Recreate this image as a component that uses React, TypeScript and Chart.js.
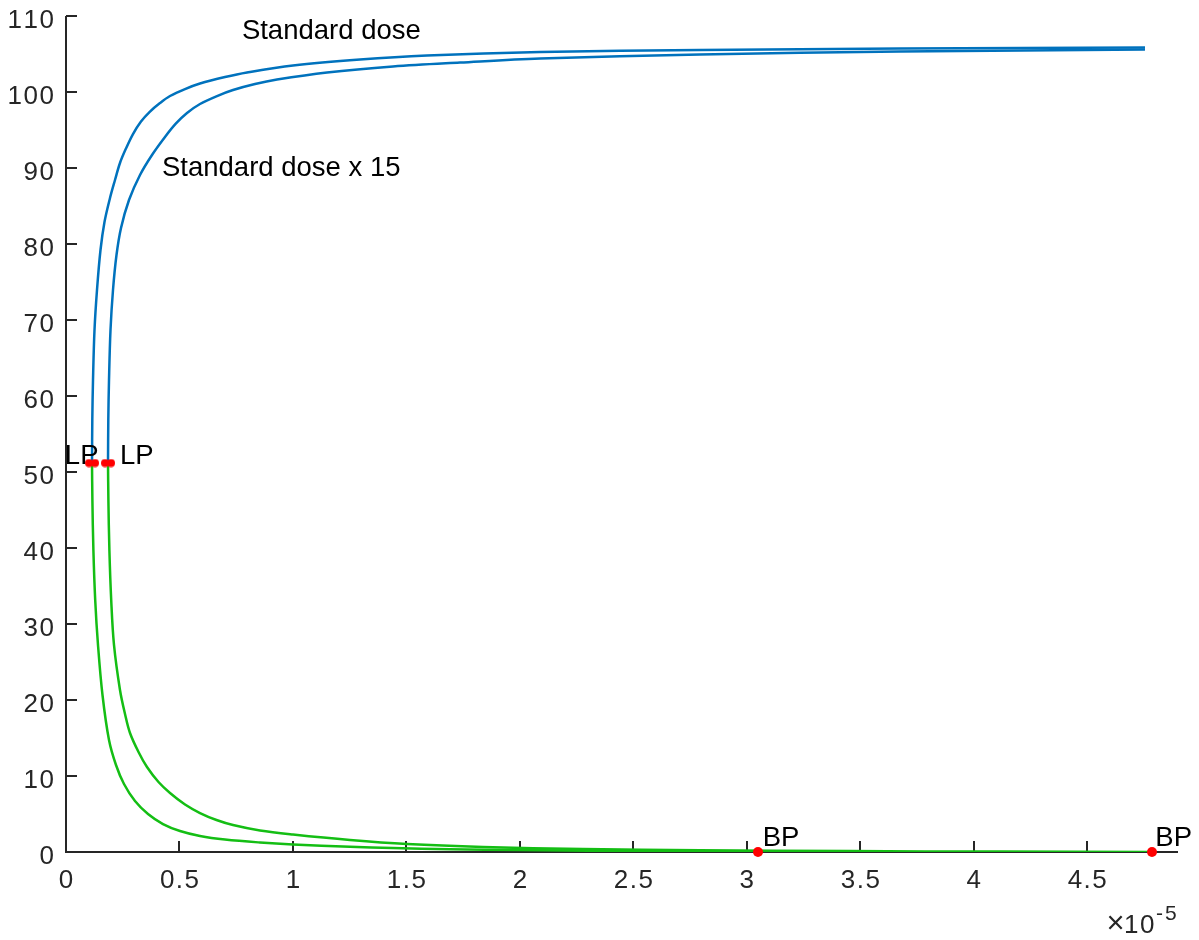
import React, { useEffect, useRef } from "react";
import { Chart, registerables } from "chart.js";

Chart.register(...registerables);

// Continuation branches. x is in units of 1e-5 (the axis carries a ×10^-5 multiplier).
// Standard dose: stable (upper) and unstable (lower) branches meeting at the fold LP.
const stdUpperX = [0.1146, 0.1159, 0.119, 0.1256, 0.1366, 0.152, 0.1696, 0.1939, 0.2159, 0.2379, 0.2644, 0.2952, 0.3305, 0.3701, 0.4142, 0.4583, 0.5244, 0.5905, 0.7006, 0.7976, 1.0003, 1.2955, 1.5907, 2.0887, 2.7937, 3.675, 4.7545];
const stdUpperY = [51.18, 56.84, 62.11, 68.68, 73.95, 79.21, 82.89, 86.05, 88.42, 90.66, 92.57, 94.47, 96.12, 97.43, 98.55, 99.47, 100.39, 101.12, 101.97, 102.57, 103.49, 104.28, 104.8, 105.26, 105.53, 105.72, 105.86];
const stdLowerX = [0.1146, 0.1163, 0.1207, 0.1287, 0.141, 0.1608, 0.1895, 0.2203, 0.2556, 0.304, 0.3613, 0.4274, 0.5023, 0.5905, 0.7006, 0.8549, 1.0003, 1.2514, 1.4409, 1.6921, 2.0005, 2.3971, 2.7937, 3.0492];
const stdLowerY = [51.18, 46.32, 39.74, 33.16, 27.24, 20.66, 14.74, 11.45, 8.95, 6.71, 5.0, 3.68, 2.76, 2.11, 1.64, 1.25, 0.99, 0.68, 0.53, 0.37, 0.25, 0.14, 0.05, 0];

// Standard dose x 15
const x15UpperX = [0.1851, 0.1864, 0.1895, 0.1961, 0.2071, 0.2225, 0.2424, 0.2776, 0.3261, 0.379, 0.4362, 0.4847, 0.5332, 0.5905, 0.6654, 0.7359, 0.8328, 0.9298, 1.1501, 1.4409, 1.7362, 2.0887, 2.7937, 3.675, 4.7545];
const x15UpperY = [51.18, 56.84, 62.11, 68.68, 73.95, 78.55, 82.11, 85.79, 89.08, 91.71, 94.08, 95.86, 97.24, 98.42, 99.47, 100.26, 101.05, 101.64, 102.57, 103.36, 103.88, 104.41, 104.93, 105.33, 105.59];
const x15LowerX = [0.1851, 0.1868, 0.1912, 0.1992, 0.2115, 0.2379, 0.26, 0.282, 0.3195, 0.3569, 0.4076, 0.4583, 0.5244, 0.5905, 0.6632, 0.7359, 0.8549, 1.0003, 1.2514, 1.5026, 1.8375, 2.2781, 2.7937, 3.4547, 4.1156, 4.7854];
const x15LowerY = [51.18, 46.32, 39.74, 33.16, 27.24, 21.32, 18.16, 15.66, 13.16, 11.18, 9.21, 7.76, 6.25, 5.13, 4.21, 3.55, 2.83, 2.3, 1.58, 1.05, 0.66, 0.39, 0.24, 0.12, 0.05, 0];

// Special points: limit points (LP) and branch points (BP)
const lpX = [0.1146, 0.1851];
const lpY = [51.18, 51.18];
const bpX = [3.0492, 4.7854];
const bpY = [0, 0];

const xTicks = [0, 0.5, 1, 1.5, 2, 2.5, 3, 3.5, 4, 4.5];
const yTicks = [0, 10, 20, 30, 40, 50, 60, 70, 80, 90, 100, 110];

// Text labels anchored in data coordinates (left edge, vertical middle)
const textLabels = [
  { text: "Standard dose", x: 0.775, y: 108.0 },
  { text: "Standard dose x 15", x: 0.423, y: 90.0 },
  { text: "LP", x: -0.005, y: 52.0 },
  { text: "LP", x: 0.238, y: 52.0 },
  { text: "BP", x: 3.07, y: 1.75 },
  { text: "BP", x: 4.8, y: 1.75 },
];

const FONT = '"Liberation Sans", Arial, Helvetica, sans-serif';
const AXIS = "#262626";
const BLUE = "#0072BD";
const GREEN = "#14BE14";
const RED = "#FF0000";
const TICK_SIZE = 26;
const TICK_SPACING = 1.5;

const pts = (xs: number[], ys: number[]) => xs.map((v, i) => ({ x: v, y: ys[i] }));

// Draw a string with a little extra spacing between glyphs.
function spacedText(ctx: CanvasRenderingContext2D, text: string, x: number, y: number, align: "left" | "center" | "right", spacing: number) {
  const chars = Array.from(text);
  const widths = chars.map((c) => ctx.measureText(c).width);
  const total = widths.reduce((s, w) => s + w, 0) + spacing * (chars.length - 1);
  let cx = align === "left" ? x : align === "center" ? x - total / 2 : x - total;
  ctx.textAlign = "left";
  chars.forEach((c, i) => {
    ctx.fillText(c, cx, y);
    cx += widths[i] + spacing;
  });
}

const axesPlugin = {
  id: "matlabAxes",
  beforeDatasetsDraw(chart: any) {
    const { ctx, chartArea: a, scales } = chart;
    const xs = scales.x;
    const ys = scales.y;
    ctx.save();
    ctx.strokeStyle = AXIS;
    ctx.lineWidth = 2;
    ctx.beginPath();
    ctx.moveTo(a.left, a.top);
    ctx.lineTo(a.left, a.bottom);
    ctx.lineTo(a.right, a.bottom);
    for (const v of yTicks) {
      const py = Math.round(ys.getPixelForValue(v));
      ctx.moveTo(a.left, py);
      ctx.lineTo(a.left + 11, py);
    }
    for (const v of xTicks) {
      const px = Math.round(xs.getPixelForValue(v));
      ctx.moveTo(px, a.bottom);
      ctx.lineTo(px, a.bottom - 11);
    }
    ctx.stroke();

    // tick labels
    ctx.fillStyle = AXIS;
    ctx.font = `${TICK_SIZE}px ${FONT}`;
    ctx.textBaseline = "alphabetic";
    for (const v of yTicks) {
      const py = ys.getPixelForValue(v);
      spacedText(ctx, String(v), a.left - 12, py + 11.5, "right", TICK_SPACING);
    }
    for (const v of xTicks) {
      const px = xs.getPixelForValue(v);
      spacedText(ctx, String(v), px, a.bottom + 36, "center", TICK_SPACING);
    }

    // axis multiplier  ×10^-5
    ctx.font = `31px ${FONT}`;
    spacedText(ctx, "\u00d7", a.right - 71.5, a.bottom + 81, "left", 0);
    ctx.font = `${TICK_SIZE}px ${FONT}`;
    spacedText(ctx, "10", a.right - 54, a.bottom + 81, "left", TICK_SPACING);
    ctx.font = `21px ${FONT}`;
    spacedText(ctx, "-5", a.right - 22, a.bottom + 68, "left", 2);
    ctx.restore();
  },
  afterDatasetsDraw(chart: any) {
    const { ctx, scales } = chart;
    const xs = scales.x;
    const ys = scales.y;
    ctx.save();
    ctx.fillStyle = "#000000";
    ctx.font = `27.5px ${FONT}`;
    ctx.textAlign = "left";
    ctx.textBaseline = "middle";
    for (const l of textLabels) {
      ctx.fillText(l.text, xs.getPixelForValue(l.x), ys.getPixelForValue(l.y));
    }
    ctx.restore();
  },
};

export default function App() {
  const canvasRef = useRef<HTMLCanvasElement | null>(null);

  useEffect(() => {
    const canvas = canvasRef.current;
    if (!canvas) return;

    // LP marker: a pair of small red dots
    const lpMarker = document.createElement("canvas");
    lpMarker.width = 14;
    lpMarker.height = 9;
    const mctx = lpMarker.getContext("2d")!;
    mctx.fillStyle = RED;
    mctx.beginPath();
    mctx.arc(4, 4.5, 4, 0, Math.PI * 2);
    mctx.arc(10, 4.5, 4, 0, Math.PI * 2);
    mctx.fill();

    const line = (xs: number[], ys: number[], color: string) => ({
      data: pts(xs, ys),
      showLine: true,
      borderColor: color,
      borderWidth: 2.5,
      pointRadius: 0,
      tension: 0.35,
      fill: false,
    });

    const chart = new Chart(canvas, {
      type: "scatter",
      data: {
        datasets: [
          {
            data: pts(lpX, lpY),
            pointStyle: lpMarker as any,
            pointRadius: 6,
            showLine: false,
            clip: false,
          },
          {
            data: pts(bpX, bpY),
            pointStyle: "circle",
            pointRadius: 5,
            pointBackgroundColor: RED,
            pointBorderWidth: 0,
            showLine: false,
            clip: false,
          },
          line(stdUpperX, stdUpperY, BLUE),
          line(x15UpperX, x15UpperY, BLUE),
          line(stdLowerX, stdLowerY, GREEN),
          line(x15LowerX, x15LowerY, GREEN),
        ] as any,
      },
      options: {
        animation: false,
        responsive: false,
        layout: { padding: { top: 16, right: 21, left: 0, bottom: 0 } },
        plugins: { legend: { display: false }, tooltip: { enabled: false } },
        scales: {
          x: {
            type: "linear",
            min: 0,
            max: 4.9,
            grid: { display: false, drawTicks: false },
            border: { display: false },
            afterBuildTicks: (s: any) => {
              s.ticks = xTicks.map((v) => ({ value: v }));
            },
            afterFit: (s: any) => {
              s.height = 88;
              s.paddingLeft = 0;
              s.paddingRight = 0;
            },
            ticks: { display: false },
          },
          y: {
            type: "linear",
            min: 0,
            max: 110,
            grid: { display: false, drawTicks: false },
            border: { display: false },
            afterBuildTicks: (s: any) => {
              s.ticks = yTicks.map((v) => ({ value: v }));
            },
            afterFit: (s: any) => {
              s.width = 66;
              s.paddingTop = 0;
              s.paddingBottom = 0;
            },
            ticks: { display: false },
          },
        },
      },
      plugins: [axesPlugin],
    });

    return () => chart.destroy();
  }, []);

  return (
    <div style={{ position: "absolute", left: 0, top: 0, width: 1199, height: 940, background: "#ffffff" }}>
      <canvas ref={canvasRef} width={1199} height={940} />
    </div>
  );
}
